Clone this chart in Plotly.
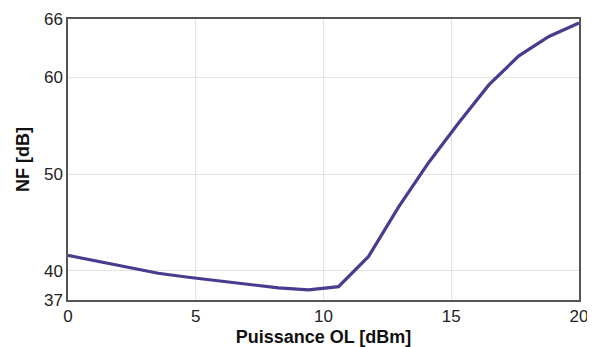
import plotly.graph_objects as go

x_vals = [k * 20 / 17 for k in range(18)]
nf_vals = [41.6, 41.0, 40.35, 39.76, 39.35, 39.0, 38.6, 38.25, 38.05, 38.38,
           41.5, 46.6, 51.2, 55.3, 59.2, 62.2, 64.2, 65.6]
x_ticks = [0, 5, 10, 15, 20]
y_ticks = [37, 40, 50, 60, 66]

FONT = "Liberation Sans, Arial, sans-serif"

fig = go.Figure()
fig.add_trace(go.Scatter(x=x_vals, y=nf_vals, mode="lines",
                         line=dict(color="#473C8E", width=3.2)))

axis_common = dict(showline=True, linecolor="#555555", linewidth=1.5, mirror=True,
                   showgrid=True, gridcolor="#e3e3e3", gridwidth=1, zeroline=False,
                   ticks="", automargin=False,
                   tickfont=dict(size=17, color="#222222", family=FONT))

fig.update_xaxes(range=[0, 20], tickvals=x_ticks,
                 title=dict(text="<b>Puissance OL [dBm]</b>", font=dict(size=18, family=FONT, color="#111111"), standoff=6),
                 **axis_common)
fig.update_yaxes(range=[37, 66], tickvals=y_ticks,
                 title=dict(text="<b>NF [dB]</b>", font=dict(size=18, family=FONT, color="#111111"), standoff=10),
                 **axis_common)

# the page body adds an 8px offset, so the figure is sized to fit the window
fig.update_layout(width=587, height=339, margin=dict(l=60, r=16, t=11, b=47),
                  plot_bgcolor="white", paper_bgcolor="white", showlegend=False)

fig.write_html("out.html")
